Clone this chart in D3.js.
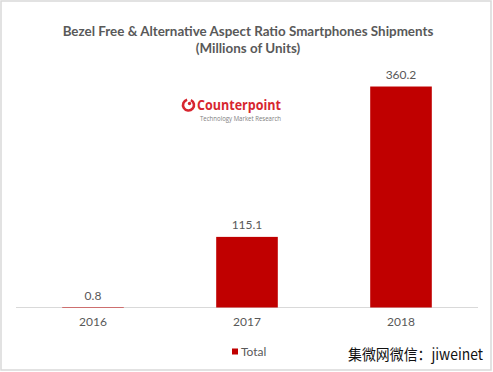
<!DOCTYPE html>
<html><head><meta charset="utf-8">
<script src="https://cdn.jsdelivr.net/npm/d3@7"></script>
<style>
html,body{margin:0;padding:0;background:#fff;}
svg{display:block;}
</style></head>
<body>
<script>
const categories = ["2016", "2017", "2018"];
const totals = [0.8, 115.1, 360.2];
const seriesName = "Total";
const titleLines = ["Bezel Free & Alternative Aspect Ratio Smartphones Shipments", "(Millions of Units)"];

const W = 493, H = 372;
const svg = d3.select("body").append("svg").attr("width", W).attr("height", H);
const font = "Lato, 'Open Sans', sans-serif";
const gray = "#595959";

svg.append("rect").attr("x", 1).attr("y", 1).attr("width", W - 3).attr("height", H - 3)
  .attr("fill", "#fff").attr("stroke", "#d9d9d9").attr("stroke-width", 1.5);

const x = d3.scaleBand().domain(categories).range([16, 478]).paddingInner(0.6).paddingOuter(0.3);
const y = d3.scaleLinear().domain([0, 400]).range([307.5, 307.5 - 400 * 0.6135]);

// title
const t = svg.append("text").attr("text-anchor", "middle").attr("font-family", font)
  .attr("font-weight", "bold").attr("fill", gray).attr("font-size", 13.4);
t.append("tspan").attr("x", 248).attr("y", 36).text(titleLines[0]);
t.append("tspan").attr("x", 248).attr("y", 53).text(titleLines[1]);

// logo
const logo = svg.append("g");
const arc = d3.arc().innerRadius(4.2).outerRadius(6.8).startAngle(0.45).endAngle(2 * Math.PI - 0.25);
logo.append("path").attr("transform", "translate(188.5,105)").attr("d", arc()).attr("fill", "#d7262f");
logo.append("circle").attr("cx", 189.5).attr("cy", 103.5).attr("r", 1.7).attr("fill", "#d7262f");
logo.append("text").attr("x", 197).attr("y", 109.5).attr("font-family", "'Open Sans', sans-serif")
  .attr("font-weight", "bold").attr("font-size", 13.5).attr("fill", "#d7262f")
  .attr("textLength", 84).attr("lengthAdjust", "spacingAndGlyphs").text("Counterpoint");
logo.append("text").attr("x", 200).attr("y", 120.5).attr("font-family", "'Open Sans', sans-serif")
  .attr("font-size", 6.3).attr("fill", "#808080")
  .attr("textLength", 81).attr("lengthAdjust", "spacingAndGlyphs").text("Technology Market Research");

// axis line
svg.append("line").attr("x1", 16).attr("x2", 478).attr("y1", 307.5).attr("y2", 307.5)
  .attr("stroke", "#d9d9d9").attr("stroke-width", 1);

// bars
svg.selectAll("rect.bar").data(categories).join("rect").attr("class", "bar")
  .attr("x", d => x(d)).attr("width", x.bandwidth())
  .attr("y", (d, i) => y(totals[i])).attr("height", (d, i) => y(0) - y(totals[i]))
  .attr("fill", "#c00000");

// labels
svg.selectAll("text.lab").data(categories).join("text").attr("class", "lab")
  .attr("x", d => x(d) + x.bandwidth() / 2).attr("y", (d, i) => y(totals[i]) - 7.5)
  .attr("text-anchor", "middle").attr("font-family", font).attr("font-size", 12).attr("fill", gray)
  .text((d, i) => totals[i].toFixed(1));

// category axis labels
const xAxis = d3.axisBottom(x).tickSize(0).tickPadding(10);
const ga = svg.append("g").attr("transform", "translate(0,307.5)").call(xAxis);
ga.select(".domain").remove();
ga.selectAll("text").attr("font-family", font).attr("font-size", 12).attr("fill", gray);

// legend
svg.append("rect").attr("x", 232).attr("y", 348.5).attr("width", 6).attr("height", 6).attr("fill", "#c00000");
svg.append("text").attr("x", 241).attr("y", 355.5).attr("font-family", font).attr("font-size", 12)
  .attr("fill", gray).text(seriesName);

// watermark
svg.append("text").attr("x", 348).attr("y", 360).attr("font-family", "'Noto Sans CJK SC', sans-serif")
  .attr("font-size", 15).attr("fill", "#111").attr("textLength", 135).attr("lengthAdjust", "spacingAndGlyphs")
  .text("集微网微信：jiweinet");
</script>
</body></html>
